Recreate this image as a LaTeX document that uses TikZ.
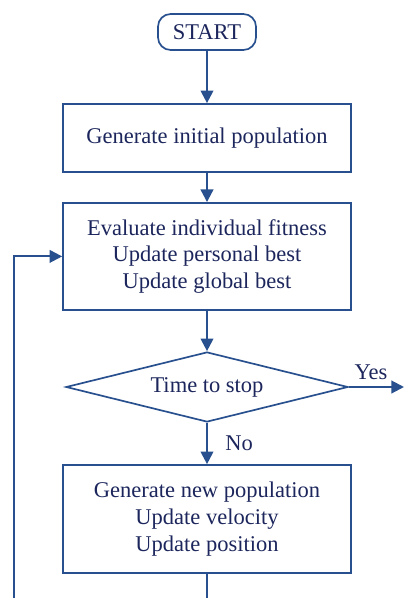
\documentclass[tikz,border=0pt]{standalone}
\usepackage{fontspec}
\setmainfont{Liberation Serif}
\usepackage{tikz}
\usetikzlibrary{shapes,arrows.meta}
\usetikzlibrary{positioning}
\definecolor{flowblue}{RGB}{40,80,142}
\definecolor{flowtext}{RGB}{28,38,92}
\tikzstyle{block} = [draw=flowblue, line width=1.2pt, rectangle, align=center,
    text=flowtext, minimum width=7.2cm]
\tikzstyle{term} = [draw=flowblue, line width=1.2pt, rectangle, rounded corners=9pt,
    text=flowtext, minimum width=2.45cm, minimum height=0.9cm]
\tikzstyle{decision} = [draw=flowblue, line width=1.2pt, diamond, inner sep=0pt,
    shape aspect=4, text=flowtext, minimum width=7.05cm, minimum height=1.75cm]
\tikzstyle{line} = [draw=flowblue, line width=1.5pt]
\tikzstyle{output} = [coordinate]

\begin{document}
\begin{tikzpicture}[>={Triangle[length=9pt,width=9pt]},
    every node/.style={font=\fontsize{16}{19}\selectfont}]
    \useasboundingbox (0,0) rectangle (10.175,-14.95);
    \node [term] at (5.175,-0.8) (start) {START};
    \node [block, minimum height=1.7cm] at (5.175,-3.45) (init) {Generate initial population};
    \node [block, minimum height=2.675cm] at (5.175,-6.41) (eval)
        {Evaluate individual fitness\\Update personal best\\Update global best};
    \node [decision] at (5.175,-9.675) (stop) {Time to stop};
    \node [output, name=exit] at (10.1,-9.675) {};
    \node [block, minimum height=2.7cm] at (5.175,-12.975) (update)
        {Generate new population\\Update velocity\\Update position};
    \node [output, name=bottom] at (5.175,-14.95) {};
    \node [output, name=back] at (0.35,-14.95) {};
    \draw [line, ->] (start) -- (init);
    \draw [line, ->] (init) -- (eval);
    \draw [line, ->] (eval) -- (stop);
    \draw [line, ->] (stop.east) -- node[above=1pt, pos=0.4, text=flowtext] (yes) {Yes} (exit);
    \draw [line, ->] (stop.south) -- node[right=9pt, text=flowtext] (no) {No} (update);
    \draw [line] (update) -- (bottom);
    \draw [line, ->] (back) |- (eval.west);
\end{tikzpicture}
\end{document}
